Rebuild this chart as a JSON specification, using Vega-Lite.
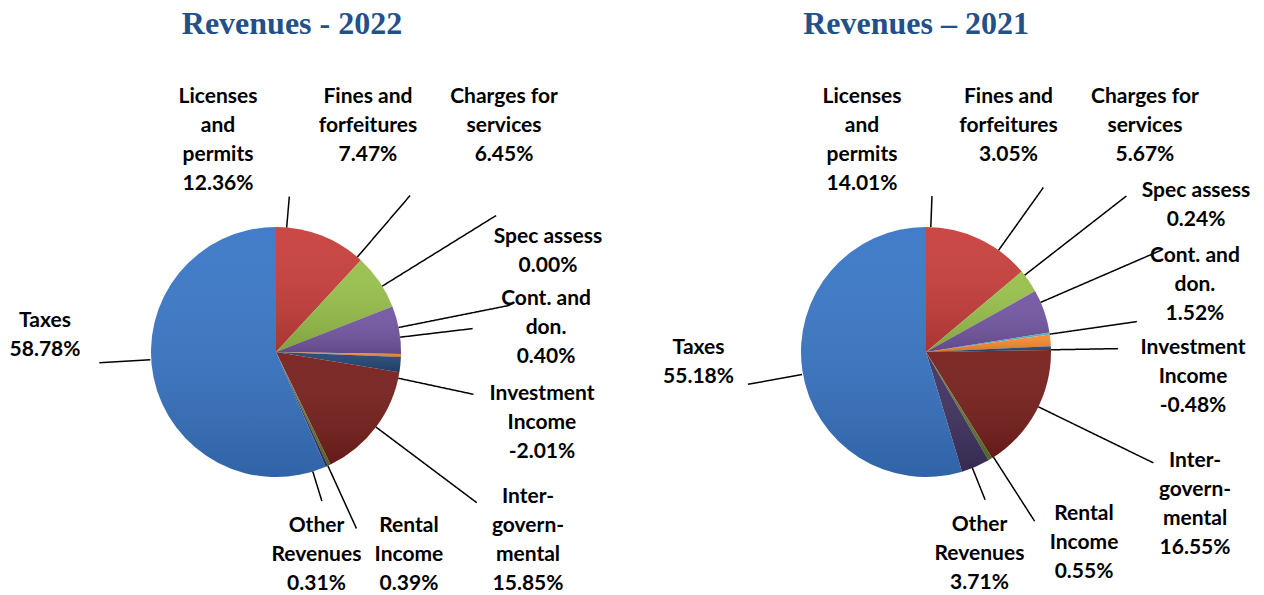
{
  "$schema": "https://vega.github.io/schema/vega-lite/v6.json",
  "padding": {"top": 7, "left": 0, "right": 0, "bottom": 0},
  "bounds": "flush",
  "spacing": 98,
  "params": [
    {"name": "txt", "value": {
      "2022": [[-103.6,-138.6],[-11.3,-184.6],[105,-232.8],[147,-116.6],[145.1,-56.6],[141.6,29],[151.8,69.8],[79.8,60.9],[-10.3,59.8],[-108.6,-56.4]],
      "2021": [[-116.8,-141.7],[-20.4,-184],[100.8,-214.2],[146.4,-142.5],[144.5,-84.3],[142.1,-0.1],[159.2,48.8],[93.7,54.8],[3.9,58.2],[-103.8,-22.7]]
    }},
    {"name": "ldr", "value": {
      "2022": [[-16.49,156],[-15.11,206],[-21.59,259],[-12.25,239],[-8.44,198],[6.28,202],[0.17,251],[0.67,194],[6.86,156],[19.93,178]],
      "2021": [[-22.78,156],[-19.89,202],[-18.84,254],[-14.88,257],[-2.82,213],[0.81,192],[-2.55,253],[-1.73,201],[1.57,159],[6.46,182]]
    }},
    {"name": "tdash", "value": {"2022": [0, 73.8, 51, 3000], "2021": [0, 54.2, 55, 3000]}}
  ],
  "data": {"values": [
    {"year": "2022", "idx": 0, "category": "Licenses and permits", "value": 12.36, "share": 12.36, "label": "Licenses\nand\npermits\n12.36%"},
    {"year": "2022", "idx": 1, "category": "Fines and forfeitures", "value": 7.47, "share": 7.47, "label": "Fines and\nforfeitures\n7.47%"},
    {"year": "2022", "idx": 2, "category": "Charges for services", "value": 6.45, "share": 6.45, "label": "Charges for\nservices\n6.45%"},
    {"year": "2022", "idx": 3, "category": "Spec assess", "value": 0.0, "share": 0.0, "label": "Spec assess\n0.00%"},
    {"year": "2022", "idx": 4, "category": "Cont. and don.", "value": 0.40, "share": 0.40, "label": "Cont. and\ndon.\n0.40%"},
    {"year": "2022", "idx": 5, "category": "Investment Income", "value": -2.01, "share": 2.01, "label": "Investment\nIncome\n-2.01%"},
    {"year": "2022", "idx": 6, "category": "Intergovernmental", "value": 15.85, "share": 15.85, "label": "Inter-\ngovern-\nmental\n15.85%"},
    {"year": "2022", "idx": 7, "category": "Rental Income", "value": 0.39, "share": 0.39, "label": "Rental\nIncome\n0.39%"},
    {"year": "2022", "idx": 8, "category": "Other Revenues", "value": 0.31, "share": 0.31, "label": "Other\nRevenues\n0.31%"},
    {"year": "2022", "idx": 9, "category": "Taxes", "value": 58.78, "share": 58.78, "label": "Taxes\n58.78%"},
    {"year": "2021", "idx": 0, "category": "Licenses and permits", "value": 14.01, "share": 14.01, "label": "Licenses\nand\npermits\n14.01%"},
    {"year": "2021", "idx": 1, "category": "Fines and forfeitures", "value": 3.05, "share": 3.05, "label": "Fines and\nforfeitures\n3.05%"},
    {"year": "2021", "idx": 2, "category": "Charges for services", "value": 5.67, "share": 5.67, "label": "Charges for\nservices\n5.67%"},
    {"year": "2021", "idx": 3, "category": "Spec assess", "value": 0.24, "share": 0.24, "label": "Spec assess\n0.24%"},
    {"year": "2021", "idx": 4, "category": "Cont. and don.", "value": 1.52, "share": 1.52, "label": "Cont. and\ndon.\n1.52%"},
    {"year": "2021", "idx": 5, "category": "Investment Income", "value": -0.48, "share": 0.48, "label": "Investment\nIncome\n-0.48%"},
    {"year": "2021", "idx": 6, "category": "Intergovernmental", "value": 16.55, "share": 16.55, "label": "Inter-\ngovern-\nmental\n16.55%"},
    {"year": "2021", "idx": 7, "category": "Rental Income", "value": 0.55, "share": 0.55, "label": "Rental\nIncome\n0.55%"},
    {"year": "2021", "idx": 8, "category": "Other Revenues", "value": 3.71, "share": 3.71, "label": "Other\nRevenues\n3.71%"},
    {"year": "2021", "idx": 9, "category": "Taxes", "value": 55.18, "share": 55.18, "label": "Taxes\n55.18%"}
  ]},
  "hconcat": [
    {
      "width": 552, "height": 484,
      "title": {"text": "Revenues - 2022", "font": "Liberation Serif", "fontSize": 32, "fontWeight": "bold", "color": "#24508A", "anchor": "middle", "dx": 16, "offset": 45},
      "transform": [{"filter": "datum.year == '2022'"}],
      "encoding": {
        "theta": {"field": "share", "type": "quantitative", "stack": true},
        "order": {"field": "idx", "type": "quantitative"}
      },
      "layer": [
        {
          "mark": {"type": "arc", "radius": 125},
          "encoding": {
            "color": {
              "field": "category", "type": "nominal", "legend": null,
              "scale": {
                "domain": ["Licenses and permits", "Fines and forfeitures", "Charges for services", "Spec assess", "Cont. and don.", "Investment Income", "Intergovernmental", "Rental Income", "Other Revenues", "Taxes"],
                "range": ["#C83E3B", "#98C04A", "#7356A3", "#4BACC6", "#F68B30", "#234673", "#771F1C", "#607A30", "#40315F", "#3976C6"]
              }
            }
          }
        },
        {
          "mark": {
            "type": "arc", "radius": 125,
            "color": {"gradient": "linear", "x1": 0, "y1": 0, "x2": 0, "y2": 1,
              "stops": [{"offset": 0, "color": "rgba(255,255,255,0.05)"}, {"offset": 1, "color": "rgba(0,0,0,0.16)"}]}
          }
        },
        {
          "mark": {
            "type": "arc", "filled": false, "stroke": "#000000", "strokeWidth": 1.5,
            "padAngle": 3.1416, "radius2": 125,
            "radius": {"expr": "ldr[datum.year][datum.idx][1]"},
            "thetaOffset": {"expr": "ldr[datum.year][datum.idx][0]*PI/180"},
            "theta2Offset": {"expr": "ldr[datum.year][datum.idx][0]*PI/180"},
            "strokeDash": {"expr": "datum.idx == 9 ? tdash[datum.year] : [1, 0]"}
          }
        },
        {
          "mark": {
            "type": "text", "radius": 125, "lineBreak": "\n",
            "font": "Lato", "fontSize": 21, "fontWeight": "bold", "color": "#000000",
            "align": "center", "baseline": "middle", "lineHeight": 29,
            "dx": {"expr": "txt[datum.year][datum.idx][0]"},
            "dy": {"expr": "txt[datum.year][datum.idx][1]"}
          },
          "encoding": {"text": {"field": "label", "type": "nominal"}}
        }
      ]
    },
    {
      "width": 552, "height": 484,
      "title": {"text": "Revenues \u2013 2021", "font": "Liberation Serif", "fontSize": 32, "fontWeight": "bold", "color": "#24508A", "anchor": "middle", "dx": -10, "offset": 45},
      "transform": [{"filter": "datum.year == '2021'"}],
      "encoding": {
        "theta": {"field": "share", "type": "quantitative", "stack": true},
        "order": {"field": "idx", "type": "quantitative"}
      },
      "layer": [
        {
          "mark": {"type": "arc", "radius": 125},
          "encoding": {
            "color": {
              "field": "category", "type": "nominal", "legend": null,
              "scale": {
                "domain": ["Licenses and permits", "Fines and forfeitures", "Charges for services", "Spec assess", "Cont. and don.", "Investment Income", "Intergovernmental", "Rental Income", "Other Revenues", "Taxes"],
                "range": ["#C83E3B", "#98C04A", "#7356A3", "#4BACC6", "#F68B30", "#234673", "#771F1C", "#607A30", "#40315F", "#3976C6"]
              }
            }
          }
        },
        {
          "mark": {
            "type": "arc", "radius": 125,
            "color": {"gradient": "linear", "x1": 0, "y1": 0, "x2": 0, "y2": 1,
              "stops": [{"offset": 0, "color": "rgba(255,255,255,0.05)"}, {"offset": 1, "color": "rgba(0,0,0,0.16)"}]}
          }
        },
        {
          "mark": {
            "type": "arc", "filled": false, "stroke": "#000000", "strokeWidth": 1.5,
            "padAngle": 3.1416, "radius2": 125,
            "radius": {"expr": "ldr[datum.year][datum.idx][1]"},
            "thetaOffset": {"expr": "ldr[datum.year][datum.idx][0]*PI/180"},
            "theta2Offset": {"expr": "ldr[datum.year][datum.idx][0]*PI/180"},
            "strokeDash": {"expr": "datum.idx == 9 ? tdash[datum.year] : [1, 0]"}
          }
        },
        {
          "mark": {
            "type": "text", "radius": 125, "lineBreak": "\n",
            "font": "Lato", "fontSize": 21, "fontWeight": "bold", "color": "#000000",
            "align": "center", "baseline": "middle", "lineHeight": 29,
            "dx": {"expr": "txt[datum.year][datum.idx][0]"},
            "dy": {"expr": "txt[datum.year][datum.idx][1]"}
          },
          "encoding": {"text": {"field": "label", "type": "nominal"}}
        }
      ]
    }
  ],
  "config": {"view": {"stroke": null}}
}
